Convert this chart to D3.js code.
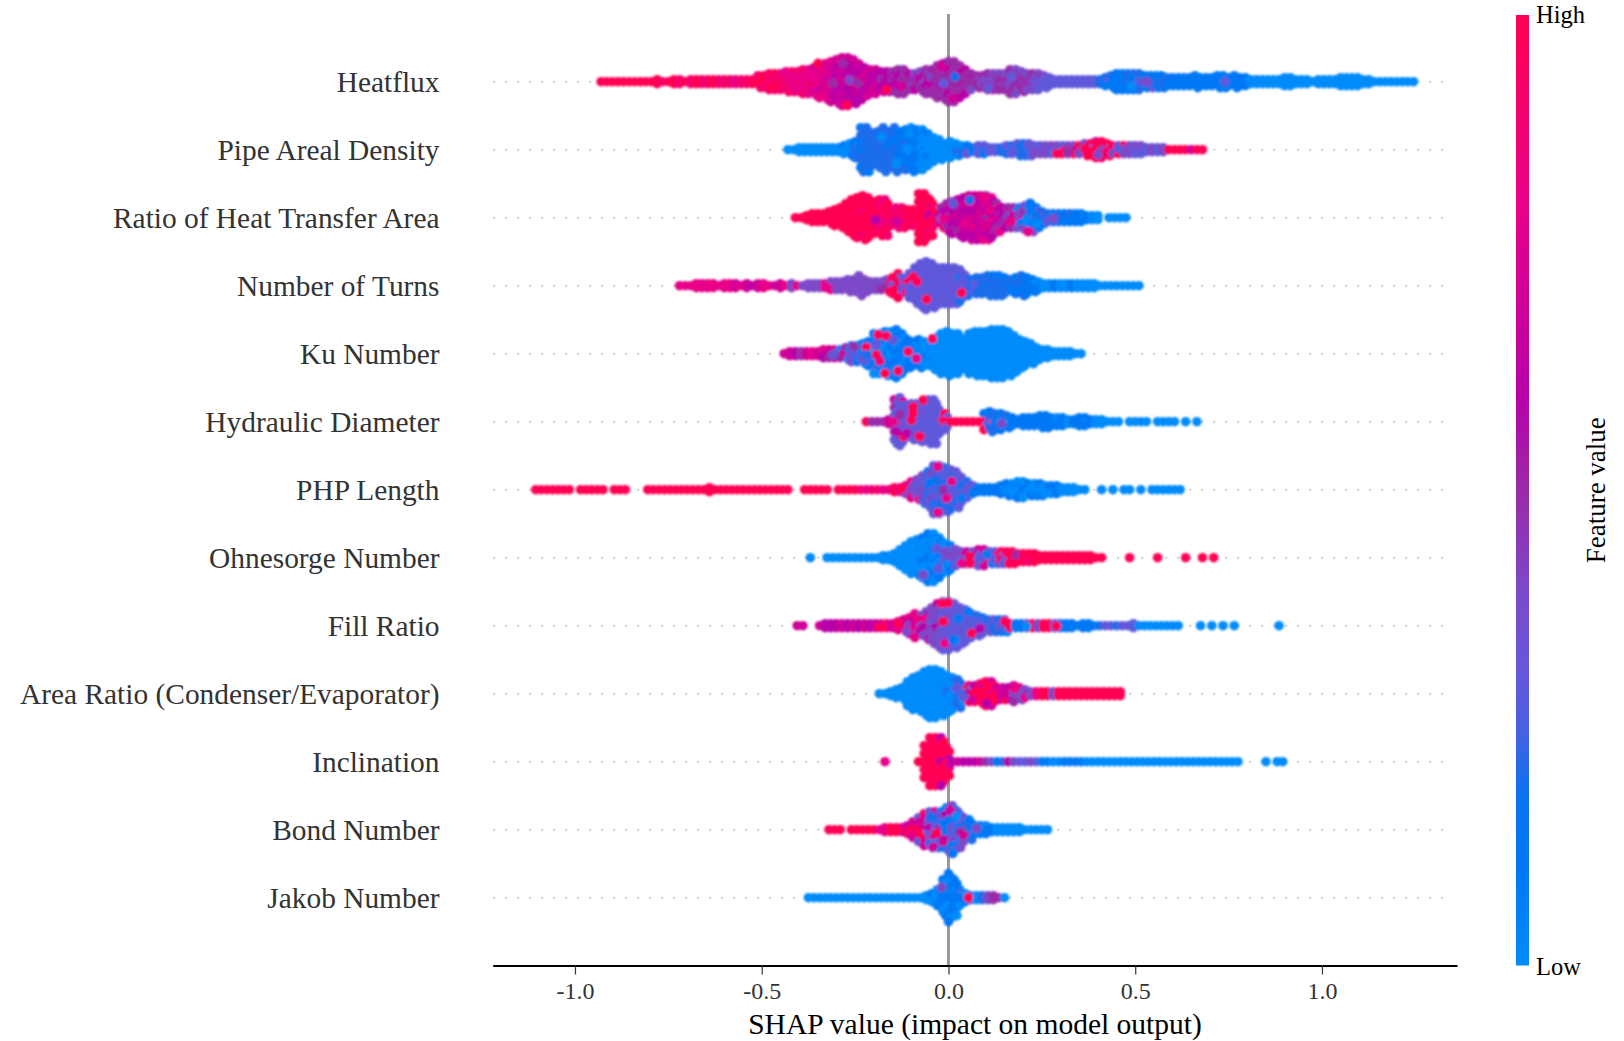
<!DOCTYPE html>
<html>
<head>
<meta charset="utf-8">
<script src="https://cdn.jsdelivr.net/npm/d3@7"></script>
<style>
  html, body { margin: 0; padding: 0; background: #fff; }
  text { font-family: "Liberation Serif", serif; }
</style>
</head>
<body>
<div id="chart"></div>
<script>
const features = ["Heatflux", "Pipe Areal Density", "Ratio of Heat Transfer Area", "Number of Turns", "Ku Number",
  "Hydraulic Diameter", "PHP Length", "Ohnesorge Number", "Fill Ratio", "Area Ratio (Condenser/Evaporator)",
  "Inclination", "Bond Number", "Jakob Number"];
const tickValues = [-1, -0.5, 0, 0.5, 1];
const tickLabels = ["-1.0", "-0.5", "0.0", "0.5", "1.0"];

// colour bar, low to high
const colorSteps = [0, 1, 1.8, 2.5, 3.2, 4, 4.5, 5, 6, 8, 10];
const colorStops = ["#008bfb", "#0078f5", "#0a72f0", "#4a60e0", "#6a55d8", "#7c48c8", "#8c38b8", "#9a2aa8", "#b800a8", "#e80088", "#ff0052"];

// each row: histogram of shap values. first bin, dots per bin, feature value per bin (0 low - 10 high)
const binWidth = 0.015;
const starts = [-0.93, -0.43, -0.41, -0.72, -0.44, -0.22, -1.105, -0.37, -0.405, -0.185, -0.17, -0.32, -0.375];

const heatfluxCounts = [1,1,1,1,1,1,1,1, 1,1,2,1,1,2,2,1,2,2,2,2,2, 2,2,2,2,2,2,2,
  4,4,5,5,5,6,6,6,7,7,8,9,10,11,12,13,13,12,10,8,7,7,6,6,6,7,7,5,5,6,7,7,9,10,11,
  11,9,7,5,4,4,5,5,5,5,7,7,6,5,5,5,4,3, 2,2,2,2,2,2,2,2,2, 3,4,5,5,5,5,5,4,4,4,4,
  3,3,3,3,3,4,3,3,3,4,4,3,4,3,3, 2,2,2,2,2,2,3,3,2,2,2,1,2,2,2,2,3,3,3,3,2,2,1,1,1,1,1,1,1,1];
const heatfluxColors = [10,10,10,10,10,10,10,10, 10,10,10,9,10,10,9,10,9,10,9,9,10, 9,9,9,8,9,9,10,
  10,10,9,9,9,8,9,8,9,8,8,7,8,7,7,6,6,7,6,7,7,6,6,6,5,6,5,5,6,4,5,6,5,5,5,
  5,6,5,5,5,4,5,4,5,4,5,5,4,5,4,4,3,3, 3,3,3,3,3,3,3,3,2, 2,1,1,1,2,1,2,3,2,1,2,
  1,1,1,1,1,1,1,1,1,1,1,1,1,1,1, 0,0,0,0,0,0,0,0,0,0,0,0,0,0,0,0,0,0,0,0,0,0,0,0,0,0,0,0,0,0];
const heatfluxSpots = [[-.425,-1.2,8],[-.469,1.2,10],[-.349,-4.6,10],[-.282,-4.6,5],[-.309,.4,5],[-.264,-.4,4],[-.273,5.8,10],
  [-.242,.4,5],[-.166,2,10],[-.126,1.2,7],[-.014,.4,3],[.017,-1.2,2],[-.019,-3.8,7],[.012,4.2,7],[.106,1.7,3],[.169,-1.2,3],
  [.45,0,1],[.49,1.2,0],[.53,0,4],[.74,0,3]];

const pipeCounts = [1,1,2,2,2,2,2,2,2,2,3,4,5,12,12,9,10,12,10,12,10,11,12,11,11,9,7,6,4,5,4,
  3,3,2,3,3,2,2,2,3,3,4,4,4,3,3,3,3,3,3,3,3,3,4,4,5,5,4,3,3,3,3,3,3,2,2,2,2,1,1,1,1,1,1,1];
const pipeColors = [0,0,0,0,0,0,0,0,0,0,0,1,1,2,2,2,2,2,2,2,1,1,1,1,0,0,0,0,0,0,0,
  2,1,1,3,2,3,3,2,3,3,3,2,3,4,3,4,3,4,10,10,4,4,6,10,10,9,10,4,4,10,4,3,4,3,4,3,4,10,10,10,10,7,10,10];
const pipeSpots = [[.365,-.3,10],[.396,-1.6,10],[.32,.5,5],[.191,-.7,2],[.2,.9,2],[.4,1.3,4],[.454,-.3,3],
  [-.112,-.3,0],[-.139,3.4,0],[-.148,-2.4,1],[-.104,-4,0],[-.179,-3.2,0]];

const ratioCounts = [1,1,2,3,3,3,4,5,6,8,10,11,12,11,9,10,10,5,6,6,5,5,13,13,10,3,6,8,9,10,
  11,12,12,12,12,11,8,6,6,6,6,7,8,6,4,3,3,3,3,3,3,3,2,2,2,0,1,1,1,1];
const ratioColors = [10,10,10,10,10,10,10,10,10,10,10,10,10,10,9,10,10,9,8,9,10,10,10,10,10,9,6,5,6,7,
  6,7,6,7,8,6,5,6,7,5,4,1,1,1,3,2,2,2,1,1,1,1,1,0,0,0,0,0,0,0];
const ratioSpots = [[-.195,.6,6],[-.139,1,7],[-.019,.2,3],[.012,-3.6,3],[.093,-5.2,8],[.057,-4.4,2],[.044,1.4,8],[.088,1.4,7],
  [.111,-1.9,8],[-.014,.2,8],[.169,1,8],[.218,-3.6,1],[.209,.6,0],[.236,1.4,0],[.213,3.5,8],[.28,.2,4]];

const turnsCounts = [1,1,1,2,2,2,2,1,2,2, 2,1,2,1,2,2,1,1,2,1, 2,1,1,2,2,2,2, 3,3,3,4,4,6,4,3,3,3,4,5,
  7,4,7,10,12,13,12,10,10,10,10, 9,6,4,5,5,6,6,6,5,4,5,6,5, 4,3,2,2,2,2,2,2,2,2,2,2, 1,1,1,1,1,1,1,1];
const turnsColors = [8,8,8,8,8,8,8,8,8,8, 7,8,7,6,7,8,8,7,7,8, 4,8,4,4,4,4,8, 4,4,4,4,4,4,4,4,4,4,5,9,
  10,3,3,3,3,3,3,3,3,3,3, 3,3,2,2,2,2,2,1,2,2,1,2,1, 1,1,0,0,1,0,0,1,0,0,0,0, 0,0,0,0,0,0,0,0];
const turnsSpots = [[-.148,1.1,10],[-.095,-2.2,10],[-.084,-1,10],[-.059,3.4,10],[-.328,.4,8],[-.157,1.5,10],[.035,1.8,10]];

const kuCounts = [1,2,2,2,2,2,2,3,3,3, 3,4,5,5,6,7,11,11,12,12, 13,11,8,7,8,7,7,9,11,12,
  11,11,8,11,12,12,12,13,13,13, 12,10,8,7,6,4,3,3,2,2, 2,2,1,1];
const kuColors = [7,7,6,5,7,8,7,6,6,7, 5,2,1,3,4,1,1,0,1,1, 0,1,1,0,1,0,0,0,0,0,
  0,0,0,0,0,0,0,0,0,0, 0,0,0,0,0,0,0,0,0,0, 0,0,0,0];
const kuSpots = [[-.188,-4.7,10],[-.166,-4.4,10],[-.22,-1.6,10],[-.108,-.5,10],[-.193,.3,10],[-.135,4.3,10],[-.17,4.9,10],[-.184,1.8,9],
  [-.043,-3.7,10],[-.255,-1.8,5],[-.224,1.6,3],[-.264,0,3],[-.309,.3,3],[-.193,-2.2,3],[-.148,-3.4,3],[-.086,1.2,8],[-.22,.3,2]];

const hydraulicCounts = [1,1,1,1,2, 12,13,9,10,10,11,12,12,7,5, 1,1,1,1,1,1, 5,6,5,5,4,3,2,3,3,3,
  4,4,3,3,3,2,2,3,3,2, 2,2,1,1,1,0,1,1,1,1, 0,1,1,1,1,0,1,0,1];
const hydraulicColors = [10,5,5,5,7, 3,3,3,4,3,3,3,3,3,3, 10,10,10,10,10,10, 1,2,2,1,0,1,1,1,1,1,
  1,1,1,1,1,0,1,1,1,1, 0,0,0,0,0,0,0,0,0,0, 0,0,0,0,0,0,0,0,0];
const hydraulicSpots = [[-.095,-2.1,10],[-.099,-.4,10],[-.13,-1.7,5],[-.139,2.5,6],[-.12,3.7,10],[-.148,0,8],[-.077,3.7,10],[-.068,-5.4,10],
  [-.112,2.9,6],[-.095,-3.7,10],[.142,.4,4]];

const phpCounts = [1,1,1,1,1,1,1,0,1,1,1,1,1,0,1,1,1,0,0,0,1,1,1,1,1,1,1,1,1,1,
  1,2,1,1,1,1,1,1,1,1,1,1,1,1,1,1,0,0,1,1,1,1,1,0,1,1,1,1,1,1,1,1,1,1,
  2,2,3,5,6,8,10,13,13,12, 11,10,7,5,3,2,2,2,2,3,4,4,5,5,4,4,4,3,3,3,2,2,2,1,1,
  0,0,1,0,1,0,1,1,0,1,0,1,1,1,1,1,1];
const phpColors = [10,10,10,10,10,10,10,10,10,10,10,10,10,10,10,10,10,10,10,10,10,10,10,10,10,10,10,10,10,10,
  10,10,10,10,10,10,10,10,10,10,10,10,10,10,10,10,10,10,10,10,10,10,10,10,10,10,10,10,9,8,9,9,8,8,
  10,8,8,4,3,4,3,2,2,3, 2,3,2,3,3,1,1,1,1,0,1,0,1,0,0,0,1,0,1,1,0,0,0,0,0,
  0,0,0,0,0,0,0,0,0,0,0,0,0,0,0,0,0];
const phpSpots = [[-.028,-5.8,8],[.008,-2.1,8],[-.028,5.7,8],[-.005,2.1,8],[-.126,-.2,10],[-.014,0,5],[-.05,-1.7,1],[.035,2.1,1]];

const ohnesorgeCounts = [1,0,0,1,1,1,1,1,1,1, 1,1,1,2,2,3,5,7,9,10, 11,13,13,11,8,7,5,4,4,4, 5,5,4,4,4,4,4,3,3,3,
  3,2,2,2,2,2,2,2,2,2, 2,1,1,0,0,0,0,1,0,0, 0,0,1,0,0,0,0,1,0,0, 1,0,1];
const ohnesorgeColors = [0,0,0,0,0,0,0,0,0,0, 0,0,0,0,0,0,0,0,0,0, 0,1,0,1,0,1,3,4,3,7, 7,1,3,3,9,9,10,10,9,10,
  10,10,10,10,10,10,10,10,10,10, 10,10,10,10,10,10,10,10,10,10, 10,10,10,10,10,10,10,10,10,10, 10,10,10];
const ohnesorgeSpots = [[-.032,-2.3,3],[-.028,2.7,3],[.004,-.3,4],[-.068,4.3,4],[.057,-.3,10],[.057,1.4,10],[.035,1.4,8],[.102,-.7,1],
  [.084,.2,3],[.178,-.7,5],[.16,-1.1,10],[-.01,-1.5,4],[.012,-.7,4]];

const fillCounts = [1,1,0,0,1,2,2,2,2,2, 2,2,2,2,2,2,2,2,3,4, 5,7,6,8,10,12,13,13,12,10, 9,7,6,5,4,4,4,4,2,2,
  2,2,2,2,2,2,2,2,2,2, 1,2,2,1,1,1,1,1,1,1, 2,1,1,1,1,1,1,1,1,0, 0,0,1,0,1,0,1,0,1,0, 0,0,0,0,0,0,1];
const fillColors = [7,7,7,7,7,6,6,6,7,6, 7,6,7,6,7,7,9,7,8,8, 6,8,4,6,4,4,3,3,3,3, 3,3,3,2,3,3,2,3,10,1,
  1,3,10,4,10,10,3,2,1,1, 1,1,1,1,2,3,3,2,3,3, 3,0,0,0,0,0,0,0,0,0, 0,0,0,0,0,0,0,0,0,0, 0,0,0,0,0,0,0];
const fillSpots = [[-.184,.4,10],[-.135,-.6,10],[-.019,-5.6,10],[-.001,-5.7,10],[-.014,-1,10],[-.01,4.4,8],[.017,3.6,0],[-.086,-1.8,8],
  [-.112,1.5,4],[.026,-1.8,1],[.062,1.9,10],[.012,3.6,1],[.053,-3.5,1],[.151,-1,10],[.258,-.2,10],[.289,.1,10],[.209,.2,0],[.084,.7,6]];

const areaCounts = [1,1,2,3,4,7,9,10,12,13, 13,12,10,9,8,5,5,5,6,7, 7,4,4,4,5,4,3,2,2,2, 2,2,2,2,2,2,2,2,2,2, 2,2,2,2];
const areaColors = [0,0,0,0,0,0,0,0,0,0, 0,0,0,0,2,2,6,10,9,10, 10,7,6,8,7,4,5,4,8,10, 10,4,10,10,10,10,10,10,10,10, 10,10,10,10];
const areaSpots = [[.021,-1.3,3],[.066,-.1,10],[.106,-1.9,10],[.12,1.6,10],[.062,1.6,7],[.093,.3,10],[.182,-.1,4],[.142,-.1,7],
  [.178,-1.3,8],[.039,.8,3],[.102,2.4,6]];

const inclinationCounts = [1,0,0,0,0,0,1,9,13,13, 13,8,1,1,1,1,1,1,1,1, 1,1,1,1,1,1,1,1,1,1, 1,1,1,1,1,1,1,1,1,1,
  1,1,1,1,1,1,1,1,1,1, 1,1,1,1,1,1,1,1,1,1, 1,1,1,1,0,0,0,0,1,0, 1,1];
const inclinationColors = [8,10,10,10,10,10,10,10,10,10, 10,10,6,7,6,6,6,7,5,4, 1,2,6,4,3,3,4,3,1,1, 0,0,1,1,1,1,0,0,0,0,
  0,0,0,0,0,0,0,0,0,0, 0,0,0,0,0,0,0,0,0,0, 0,0,0,0,0,0,0,0,0,0, 0,0];
const inclinationSpots = [];

const bondCounts = [1,1,1,0,1,1,1,1,1,1, 2,2,2,2,3,5,7,9,10,10, 10,12,13,10,7,6,3,3,3,2, 2,2,2,2,2,1,1,1,1,1];
const bondColors = [10,10,10,10,10,10,10,10,10,8, 8,10,10,7,10,7,9,7,3,2, 6,1,3,1,4,2,1,1,1,1, 0,0,0,0,0,0,0,0,0,0];
const bondSpots = [[-.135,.1,10],[-.077,-2,7],[-.081,.8,10],[-.032,.9,10],[.004,-4.9,7],[.03,.5,5],[-.014,3,7],[-.041,4.3,7],[-.046,-3.3,2],
  [.075,-.3,4],[.012,5.9,1],[-.014,-1.6,1],[.021,-3.3,0],[.039,1.3,7]];

const jakobCounts = [1,1,1,1,1,1,1,1,1,1,1,1,1,1,1,1,1,1,1,1,1, 2,3,5,10,13,10,5,3,2,2,2,2,2,1,1];
const jakobColors = [0,0,0,0,0,0,0,0,0,0,0,0,0,0,0,0,0,0,0,0,0, 0,0,1,1,0,1,1,1,3,0,2,4,5,5,0];
const jakobSpots = [[-.019,-2.6,4],[.053,0,10]];

const counts = [heatfluxCounts, pipeCounts, ratioCounts, turnsCounts, kuCounts, hydraulicCounts, phpCounts,
  ohnesorgeCounts, fillCounts, areaCounts, inclinationCounts, bondCounts, jakobCounts];
const colors = [heatfluxColors, pipeColors, ratioColors, turnsColors, kuColors, hydraulicColors, phpColors,
  ohnesorgeColors, fillColors, areaColors, inclinationColors, bondColors, jakobColors];
const spots = [heatfluxSpots, pipeSpots, ratioSpots, turnsSpots, kuSpots, hydraulicSpots, phpSpots,
  ohnesorgeSpots, fillSpots, areaSpots, inclinationSpots, bondSpots, jakobSpots];

// layout
const width = 1624;
const height = 1041;
const axisY = 965.5;
const barTop = 15;
const laneStep = 4;
const dotRadius = 4.8;

const x = d3.scaleLinear().domain([-1.2203, 1.3615]).range([492.7, 1457]);
const y = d3.scalePoint().domain(features).range([81.7, 897.7]);
const color = d3.scaleLinear().domain(colorSteps).range(colorStops).clamp(true);

const svg = d3.select("#chart").append("svg")
  .attr("width", width)
  .attr("height", height)
  .style("display", "block");

const defs = svg.append("defs");
defs.append("filter").attr("id", "soft")
  .attr("x", "-2%").attr("y", "-2%").attr("width", "104%").attr("height", "104%")
  .append("feGaussianBlur").attr("stdDeviation", 0.9);

const grad = defs.append("linearGradient").attr("id", "bar")
  .attr("x1", 0).attr("y1", 1).attr("x2", 0).attr("y2", 0);
grad.selectAll("stop").data(colorSteps).join("stop")
  .attr("offset", d => d / 10)
  .attr("stop-color", d => color(d));

// dotted row lines
svg.append("g").selectAll("line").data(features).join("line")
  .attr("x1", 493.3).attr("x2", 1448)
  .attr("y1", d => y(d)).attr("y2", d => y(d))
  .attr("stroke", "#cccccc")
  .attr("stroke-width", 2)
  .attr("stroke-dasharray", "2 10");

// zero line
svg.append("line")
  .attr("x1", x(0)).attr("x2", x(0))
  .attr("y1", 14).attr("y2", axisY)
  .attr("stroke", "#999999")
  .attr("stroke-width", 3);

// swarm. lanes inside a thick bin are staggered and borrow colours of the bins next to them so no stripes show
const borrow = [0, -2, 1, 0, 2, -1];
const dots = [];
features.forEach((name, r) => {
  counts[r].forEach((n, i) => {
    const v = starts[r] + i * binWidth;
    d3.range(n).forEach(k => {
      const near = n > 2 ? colors[r][i + borrow[(k + i) % 6]] : colors[r][i];
      dots.push({
        name,
        v: v + (n > 2 && k % 2 ? binWidth / 2 : 0),
        lane: k - (n - 1) / 2,
        c: near === undefined ? colors[r][i] : near
      });
    });
  });
});
features.forEach((name, r) => {
  spots[r].forEach(s => dots.push({ name, v: s[0], lane: s[1], c: s[2] }));
});

svg.append("g").attr("filter", "url(#soft)")
  .selectAll("circle").data(dots).join("circle")
  .attr("cx", d => x(d.v))
  .attr("cy", d => y(d.name) + d.lane * laneStep)
  .attr("r", dotRadius)
  .attr("fill", d => color(d.c));

// feature labels
svg.append("g").selectAll("text").data(features).join("text")
  .attr("x", 439.5)
  .attr("y", d => y(d) + 10)
  .attr("text-anchor", "end")
  .attr("font-size", 29.4)
  .attr("fill", "#333333")
  .text(d => d);

// x axis
const axis = d3.axisBottom(x)
  .tickValues(tickValues)
  .tickFormat((d, i) => tickLabels[i])
  .tickSize(9)
  .tickSizeOuter(0)
  .tickPadding(7);

const axisG = svg.append("g").attr("transform", `translate(0,${axisY})`).call(axis);
axisG.select(".domain").attr("stroke", "#000").attr("stroke-width", 2.2);
axisG.selectAll(".tick line").attr("stroke", "#333").attr("stroke-width", 1.2);
axisG.selectAll(".tick text")
  .attr("font-size", 24)
  .attr("font-family", "Liberation Serif")
  .attr("fill", "#333333");

svg.append("text")
  .attr("x", 975)
  .attr("y", 1034)
  .attr("text-anchor", "middle")
  .attr("font-size", 29.5)
  .attr("fill", "#000")
  .text("SHAP value (impact on model output)");

// colour bar
svg.append("rect")
  .attr("x", 1516).attr("y", barTop)
  .attr("width", 13).attr("height", axisY - barTop)
  .attr("fill", "url(#bar)");

svg.append("text").attr("x", 1536).attr("y", 23)
  .attr("font-size", 24.5).attr("fill", "#000").text("High");
svg.append("text").attr("x", 1536).attr("y", 975)
  .attr("font-size", 24.5).attr("fill", "#000").text("Low");

svg.append("text")
  .attr("transform", `translate(1605,${(barTop + axisY) / 2}) rotate(-90)`)
  .attr("text-anchor", "middle")
  .attr("font-size", 27)
  .attr("fill", "#000")
  .text("Feature value");
</script>
</body>
</html>
